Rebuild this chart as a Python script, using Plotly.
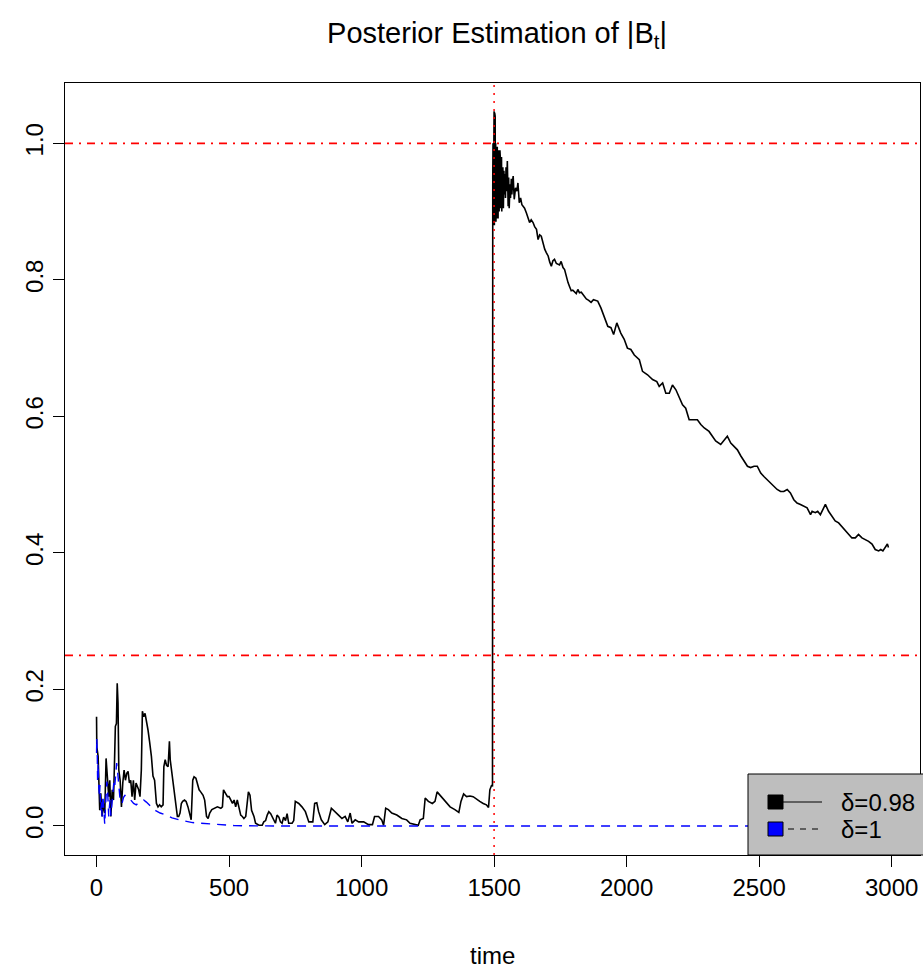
import plotly.graph_objects as go

# ---- data ----
t_098 = [0, 1, 6, 9, 12, 16, 21, 26, 31, 36, 41, 46, 50, 54, 59, 64, 68, 71, 75, 78, 81, 84, 89, 94,
         99, 104, 109, 114, 119, 124, 129, 134, 139, 144, 149, 154, 159, 164, 169, 173, 178, 183, 188,
         194, 200, 207, 213, 219, 226, 232, 238, 244, 251, 254, 259, 264, 270, 275, 278, 283, 288, 295,
         301, 305, 310, 315, 320, 325, 332, 338, 345, 351, 357, 363, 368, 375, 381, 387, 393, 402, 408,
         415, 421, 427, 435, 444, 456, 469, 475, 479, 485, 494, 500, 506, 513, 519, 525, 531, 538, 544,
         550, 556, 563, 569, 573, 579, 585, 594, 600, 613, 625, 631, 638, 644, 650, 657, 663, 669, 675,
         681, 688, 694, 700, 706, 713, 719, 725, 738, 744, 750, 763, 775, 788, 801, 816, 823, 831, 838,
         848, 861, 873, 886, 898, 913, 926, 938, 948, 957, 964, 976, 989, 1008, 1026, 1041, 1049, 1064,
         1076, 1083, 1091, 1101, 1114, 1133, 1152, 1170, 1183, 1202, 1214, 1221, 1233, 1240, 1252, 1267,
         1277, 1285, 1296, 1309, 1321, 1334, 1352, 1367, 1375, 1385, 1396, 1409, 1421, 1434, 1446, 1459,
         1471, 1479, 1484, 1491, 1494,
         1495, 1496, 1497, 1498, 1499, 1500, 1501, 1502, 1503, 1504, 1505, 1506, 1507, 1508, 1509, 1510,
         1511, 1512, 1513, 1514, 1515, 1516, 1517, 1518, 1519, 1520, 1521, 1522, 1523, 1524, 1525, 1526,
         1527, 1528, 1529, 1530, 1531, 1533, 1535, 1537, 1539, 1541, 1543, 1545, 1547, 1550, 1553, 1555,
         1557, 1560, 1562, 1565, 1567, 1570, 1572, 1576, 1581, 1586, 1590, 1595, 1600, 1605, 1609,
         1615, 1622, 1628, 1634, 1640, 1647, 1653, 1660, 1666, 1672, 1678, 1685, 1691, 1697, 1704, 1710,
         1716, 1722, 1728, 1735, 1741, 1747, 1753, 1760, 1766, 1772, 1779, 1785, 1791, 1797, 1804, 1810,
         1816, 1822, 1829, 1838, 1848, 1857, 1866, 1875, 1885, 1891, 1903, 1916, 1929, 1941, 1951, 1963,
         1978, 1991, 2003, 2016, 2029, 2048, 2060, 2079, 2098, 2114, 2123, 2136, 2148, 2161, 2173, 2186,
         2198, 2211, 2223, 2236, 2255, 2267, 2280, 2293, 2311, 2324, 2336, 2355, 2368, 2380, 2393, 2405,
         2418, 2431, 2443, 2456, 2468, 2481, 2493, 2506, 2518, 2531, 2543, 2556, 2568, 2581, 2593, 2606,
         2618, 2631, 2643, 2656, 2669, 2681, 2694, 2700, 2712, 2721, 2731, 2741, 2750, 2762, 2775, 2787,
         2800, 2812, 2825, 2838, 2850, 2863, 2875, 2888, 2900, 2913, 2926, 2938, 2951, 2959, 2967, 2976,
         2984, 2988]
v_098 = [0.160, 0.116, 0.102, 0.067, 0.023, 0.048, 0.014, 0.033, 0.019, 0.099, 0.073, 0.043, 0.067,
         0.014, 0.053, 0.038, 0.097, 0.146, 0.150, 0.209, 0.180, 0.082, 0.067, 0.028, 0.063, 0.082,
         0.067, 0.077, 0.080, 0.063, 0.067, 0.043, 0.067, 0.038, 0.063, 0.058, 0.053, 0.043, 0.082,
         0.168, 0.160, 0.165, 0.155, 0.141, 0.124, 0.102, 0.073, 0.067, 0.033, 0.028, 0.031, 0.028,
         0.031, 0.087, 0.097, 0.089, 0.087, 0.124, 0.097, 0.082, 0.067, 0.048, 0.023, 0.014, 0.014,
         0.019, 0.033, 0.036, 0.038, 0.036, 0.028, 0.019, 0.009, 0.067, 0.072, 0.070, 0.060, 0.053,
         0.050, 0.045, 0.038, 0.014, 0.011, 0.019, 0.024, 0.026, 0.028, 0.026, 0.028, 0.053, 0.048,
         0.043, 0.043, 0.038, 0.033, 0.038, 0.028, 0.038, 0.023, 0.016, 0.014, 0.011, 0.014, 0.038,
         0.050, 0.045, 0.023, 0.014, 0.004, 0.001, 0.001, 0.006, 0.008, 0.016, 0.021, 0.018, 0.013,
         0.008, 0.004, 0.016, 0.013, 0.006, 0.004, 0.013, 0.008, 0.018, 0.004, 0.004, 0.008, 0.036,
         0.033, 0.028, 0.021, 0.006, 0.006, 0.033, 0.034, 0.021, 0.009, 0.002, 0.006, 0.026, 0.021,
         0.016, 0.011, 0.014, 0.006, 0.019, 0.004, 0.009, 0.006, 0.006, 0.002, 0.002, 0.014, 0.014,
         0.009, 0.001, 0.026, 0.024, 0.019, 0.016, 0.011, 0.009, 0.004, 0.002, 0.001, 0.009, 0.011,
         0.041, 0.036, 0.033, 0.036, 0.050, 0.045, 0.038, 0.033, 0.028, 0.024, 0.020, 0.036, 0.047,
         0.043, 0.044, 0.043, 0.039, 0.036, 0.033, 0.031, 0.027, 0.053, 0.060, 0.058,
         0.950, 1.000, 0.885, 1.030, 0.900, 1.047, 0.880, 1.045, 0.895, 1.040, 0.900, 1.000, 0.885,
         0.990, 0.895, 0.985, 0.890, 0.995, 0.900, 0.975, 0.890, 0.990, 0.905, 0.985, 0.900, 0.970,
         0.910, 0.990, 0.920, 0.975, 0.905, 0.965, 0.915, 0.980, 0.900, 0.960, 0.920, 0.965, 0.905,
         0.960, 0.925, 0.955, 0.920, 0.965, 0.930, 0.974, 0.908, 0.950, 0.905, 0.940, 0.920, 0.948,
         0.925, 0.945, 0.952, 0.918, 0.935, 0.930, 0.942, 0.913, 0.920, 0.910, 0.908, 0.905, 0.898,
         0.890, 0.884, 0.888, 0.884, 0.878, 0.874, 0.859, 0.866, 0.864, 0.852, 0.845, 0.840, 0.835,
         0.826, 0.820, 0.828, 0.830, 0.824, 0.823, 0.822, 0.827, 0.818, 0.815, 0.805, 0.796, 0.790,
         0.784, 0.785, 0.782, 0.780, 0.786, 0.781, 0.782, 0.778, 0.772, 0.770, 0.767, 0.771, 0.769,
         0.769, 0.759, 0.744, 0.732, 0.730, 0.720, 0.737, 0.722, 0.713, 0.700, 0.698, 0.690, 0.683,
         0.666, 0.661, 0.654, 0.651, 0.644, 0.649, 0.634, 0.634, 0.646, 0.639, 0.629, 0.617, 0.612,
         0.595, 0.595, 0.595, 0.588, 0.583, 0.578, 0.571, 0.564, 0.559, 0.566, 0.571, 0.561, 0.556,
         0.551, 0.542, 0.534, 0.527, 0.525, 0.527, 0.527, 0.517, 0.512, 0.507, 0.503, 0.498, 0.493,
         0.490, 0.490, 0.493, 0.488, 0.478, 0.473, 0.471, 0.469, 0.466, 0.456, 0.461, 0.459, 0.461,
         0.456, 0.464, 0.471, 0.461, 0.454, 0.447, 0.444, 0.439, 0.434, 0.427, 0.422, 0.422, 0.427,
         0.422, 0.420, 0.417, 0.413, 0.405, 0.403, 0.405, 0.403, 0.408, 0.413, 0.408]

t_1 = [0, 1, 3, 4, 6, 8, 11, 13, 16, 19, 21, 24, 26, 29, 31, 34, 36, 39, 41, 44, 46, 49, 51, 54, 56,
       59, 61, 64, 66, 69, 71, 74, 76, 79, 82, 84, 87, 89, 93, 96, 102, 107, 113, 119, 125, 132, 140,
       150, 160, 169, 178, 188, 200, 212, 225, 240, 262, 285, 312, 340, 362, 395, 425, 460, 487, 520,
       560, 620, 700, 1000, 1500, 2000, 2500, 2990]
v_1 = [0.107, 0.129, 0.100, 0.067, 0.092, 0.060, 0.043, 0.060, 0.023, 0.035, 0.014, 0.045, 0.033,
       0.010, 0.002, 0.030, 0.043, 0.065, 0.058, 0.030, 0.014, 0.030, 0.038, 0.015, 0.023, 0.045,
       0.053, 0.060, 0.067, 0.060, 0.072, 0.085, 0.092, 0.082, 0.070, 0.067, 0.050, 0.038, 0.035,
       0.033, 0.042, 0.045, 0.044, 0.043, 0.040, 0.036, 0.033, 0.031, 0.035, 0.037, 0.038, 0.035,
       0.030, 0.026, 0.022, 0.019, 0.016, 0.012, 0.009, 0.007, 0.005, 0.004, 0.003, 0.002, 0.001,
       0.0005, 0.0003, 0.0001, 0.0, 0.0, 0.0, 0.0, 0.0, 0.0]

x_ticks = [0, 500, 1000, 1500, 2000, 2500, 3000]
y_ticks = [0.0, 0.2, 0.4, 0.6, 0.8, 1.0]
h_refs = [1.0, 0.25]
v_ref = 1500
legend_labels = ["δ=0.98", "δ=1"]

FONT = "Liberation Sans, Arial, Helvetica, sans-serif"
FS = 24

W, H = 923, 969
L, R, T, B = 65, 920, 83, 855          # plot box in pixels


def px(x):
    return (x - L) / (R - L)


def py(y):
    return (B - y) / (B - T)


fig = go.Figure()
fig.add_trace(go.Scatter(x=t_098, y=v_098, mode="lines", name=legend_labels[0],
                         line=dict(color="black", width=1.6), showlegend=False))
fig.add_trace(go.Scatter(x=t_1, y=v_1, mode="lines", name=legend_labels[1],
                         line=dict(color="#0000FF", width=1.4, dash="9px,7px"), showlegend=False))

# reference lines
for h in h_refs:
    fig.add_shape(type="line", xref="paper", x0=0, x1=1, yref="y", y0=h, y1=h,
                  line=dict(color="#FF0000", width=1.6, dash="8px,6px,2px,6px"), layer="above")
fig.add_shape(type="line", xref="x", x0=v_ref, x1=v_ref, yref="paper", y0=0, y1=1,
              line=dict(color="#FF0000", width=1.5, dash="2px,6px"), layer="above")

# legend box (R-style)
fig.add_shape(type="rect", xref="paper", yref="paper", x0=px(748), x1=px(935), y0=py(855), y1=py(774),
              fillcolor="#BEBEBE", line=dict(color="black", width=1), layer="above")
for i, (col, dash, lab) in enumerate(zip(["black", "#0000FF"], ["solid", "6px,6px"], legend_labels)):
    yc = 802 + 27 * i
    fig.add_shape(type="line", xref="paper", yref="paper", x0=px(776), x1=px(822), y0=py(yc), y1=py(yc),
                  line=dict(color="black", width=1.2, dash=dash), layer="above")
    fig.add_shape(type="rect", xref="paper", yref="paper", x0=px(768), x1=px(783), y0=py(yc + 7), y1=py(yc - 7),
                  fillcolor=col, line=dict(color="black", width=1), layer="above")
    fig.add_annotation(xref="paper", yref="paper", x=px(839), y=py(yc), text=lab, showarrow=False,
                       xanchor="left", yanchor="middle", font=dict(family=FONT, size=FS, color="black"))

# x axis title
fig.add_annotation(xref="paper", yref="paper", x=px(492), y=py(955), text="time", showarrow=False,
                   xanchor="center", yanchor="middle", font=dict(family=FONT, size=FS, color="black"))

fig.update_layout(
    width=W, height=H,
    margin=dict(l=L, r=W - R, t=T, b=H - B, pad=0, autoexpand=False),
    paper_bgcolor="white", plot_bgcolor="white",
    font=dict(family=FONT, size=FS, color="black"),
    title=dict(text="Posterior Estimation of |B<sub>t</sub>|", x=px(497), xref="paper",
               y=1 - 33 / H, yref="container", xanchor="center", yanchor="middle",
               font=dict(family=FONT, size=29, color="black")),
    showlegend=False,
)
fig.update_xaxes(range=[-119, 3107], tickvals=x_ticks, ticktext=[str(v) for v in x_ticks],
                 showgrid=False, zeroline=False, showline=True, mirror=True, linecolor="black",
                 linewidth=1, ticks="outside", ticklen=11, tickcolor="black", tickwidth=1,
                 automargin=False, tickfont=dict(family=FONT, size=FS))
fig.update_yaxes(range=[-0.0425, 1.0884], tickvals=y_ticks, ticktext=["%.1f" % v for v in y_ticks],
                 showgrid=False, zeroline=False, showline=True, mirror=True, linecolor="black",
                 linewidth=1, ticks="outside", ticklen=11, tickcolor="black", tickwidth=1,
                 tickangle=-90, automargin=False, tickfont=dict(family=FONT, size=FS))

# remove the default page margin so the figure fills the window exactly
page_css = ("document.body.style.margin='0';document.body.style.overflow='hidden';"
            "document.documentElement.style.overflow='hidden';")
fig.write_html("out.html", post_script=page_css, config={"displayModeBar": False})
